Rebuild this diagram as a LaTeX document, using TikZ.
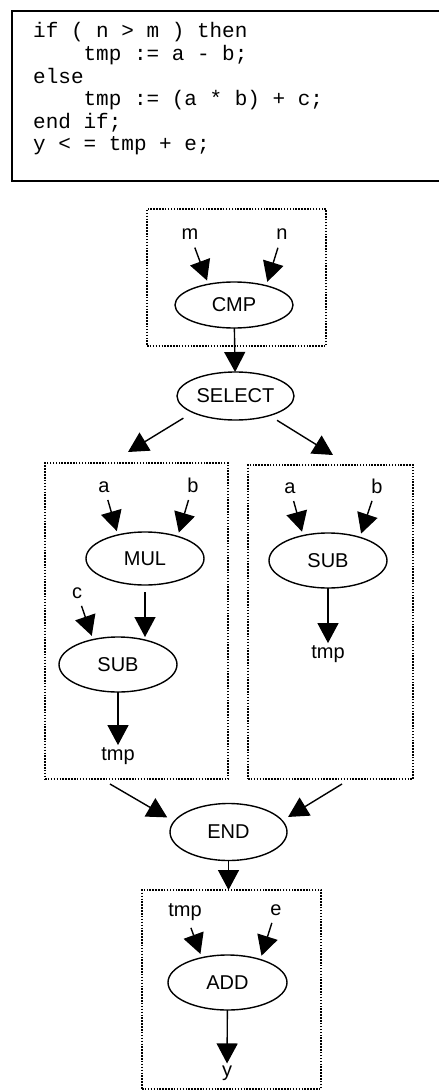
\documentclass[tikz,border=0pt]{standalone}
\usepackage{fontspec}
\setmainfont{Liberation Sans}
\newfontfamily\codefont{Liberation Mono}
\usetikzlibrary{arrows.meta,shapes.geometric}
\begin{document}
\begin{tikzpicture}[x=1pt,y=-1pt,
  op/.style={ellipse, draw, line width=1.4pt, inner sep=0pt, outer sep=0pt,
    minimum width=118pt, minimum height=54pt, font=\fontsize{20}{24}\selectfont},
  lbl/.style={inner sep=2pt, outer sep=0pt, anchor=base, font=\fontsize{20}{24}\selectfont},
  grp/.style={draw, line width=1.9pt, dash pattern=on 1.5pt off 1.4pt,
    inner sep=0pt, outer sep=0pt},
  flow/.style={line width=1.4pt, -{Triangle[length=20pt,width=21pt]}},
  inflow/.style={flow, shorten <=6pt, shorten >=4pt},
  codeline/.style={anchor=base west, inner sep=0pt,
    font=\codefont\fontsize{21}{23}\selectfont\frenchspacing},
]
\useasboundingbox (0,0) rectangle (439,1091);

% VHDL source, framed on three sides
\draw[line width=1.3pt] (439,11) -- (12,11) -- (12,181) -- (439,181);
\node[codeline] (src1) at (33,38.0)  {if~(~n~>~m~)~then};
\node[codeline] (src2) at (33,60.6)  {~~~~tmp~:=~a~-~b;};
\node[codeline] (src3) at (33,83.2)  {else};
\node[codeline] (src4) at (33,105.8) {~~~~tmp~:=~(a~*~b)~+~c;};
\node[codeline] (src5) at (33,128.4) {end~if;};
\node[codeline] (src6) at (33,151.0) {y~<~=~tmp~+~e;};

% group frames
\node[grp, minimum width=179pt, minimum height=137pt] (cmpgrp) at (236.5,277.5) {};
\node[grp, minimum width=183pt, minimum height=316pt] (elsegrp) at (136.5,621) {};
\node[grp, minimum width=165pt, minimum height=314pt] (thengrp) at (330.5,622) {};
\node[grp, minimum width=179pt, minimum height=199pt] (addgrp) at (231.5,989.5) {};

% operations
\node[op, minimum height=46pt] (cmp) at (234,305) {CMP};
\node[op, minimum width=117pt, minimum height=48pt] (select) at (235.5,396) {SELECT};
\node[op, minimum height=53pt] (mul) at (145,558.5) {MUL};
\node[op, minimum height=55pt] (subl) at (118,664.5) {SUB};
\node[op, minimum height=55pt] (subr) at (328,560.5) {SUB};
\node[op, minimum width=117pt, minimum height=57pt] (endop) at (228.5,832) {END};
\node[op, minimum width=119pt, minimum height=55pt] (add) at (227.5,982.5) {ADD};

% operands
\node[lbl] (m)    at (190,240) {m};
\node[lbl] (n)    at (282,240) {n};
\node[lbl] (a1)   at (104,492) {a};
\node[lbl] (b1)   at (193,492) {b};
\node[lbl] (c1)   at (77,598)  {c};
\node[lbl] (tmp1) at (118,760) {tmp};
\node[lbl] (a2)   at (290,493) {a};
\node[lbl] (b2)   at (377,493) {b};
\node[lbl] (tmp2) at (328,658) {tmp};
\node[lbl] (tmp3) at (185,916) {tmp};
\node[lbl] (e3)   at (276,915) {e};
\node[lbl] (y3)   at (227,1076) {y};

% free ends of the branch arrows
\coordinate (toelse) at (128,452);
\coordinate (tothen) at (333,455);
\coordinate (fromelse) at (110,784);
\coordinate (fromthen) at (342,784);

% compare and select
\draw[inflow] (m) -- (cmp.141);
\draw[inflow] (n) -- (cmp.31);
\draw[flow] (cmp) -- (select);
\draw[flow, shorten <=11pt] (select.201) -- (toelse);
\draw[flow, shorten <=9pt] (select.-30) -- (tothen);

% else branch
\draw[inflow] (a1) -- (mul.139);
\draw[inflow] (b1) -- (mul.34);
\draw[flow, shorten <=7pt] (mul.south) -- (mul.south |- subl.north);
\draw[inflow] (c1) -- (subl.135);
\draw[flow] (subl) -- (tmp1);

% then branch
\draw[inflow] (a2) -- (subr.135);
\draw[inflow] (b2) -- (subr.36);
\draw[flow] (subr) -- (tmp2);

% join
\draw[flow, shorten >=8pt] (fromelse) -- (endop.169);
\draw[flow, shorten >=7pt] (fromthen) -- (endop.12);
\draw[flow] (endop.south) -- (endop.south |- addgrp.north);

% final addition
\draw[inflow] (tmp3) -- (add.136);
\draw[inflow] (e3) -- (add.35);
\draw[flow] (add) -- (y3);
\end{tikzpicture}
\end{document}
